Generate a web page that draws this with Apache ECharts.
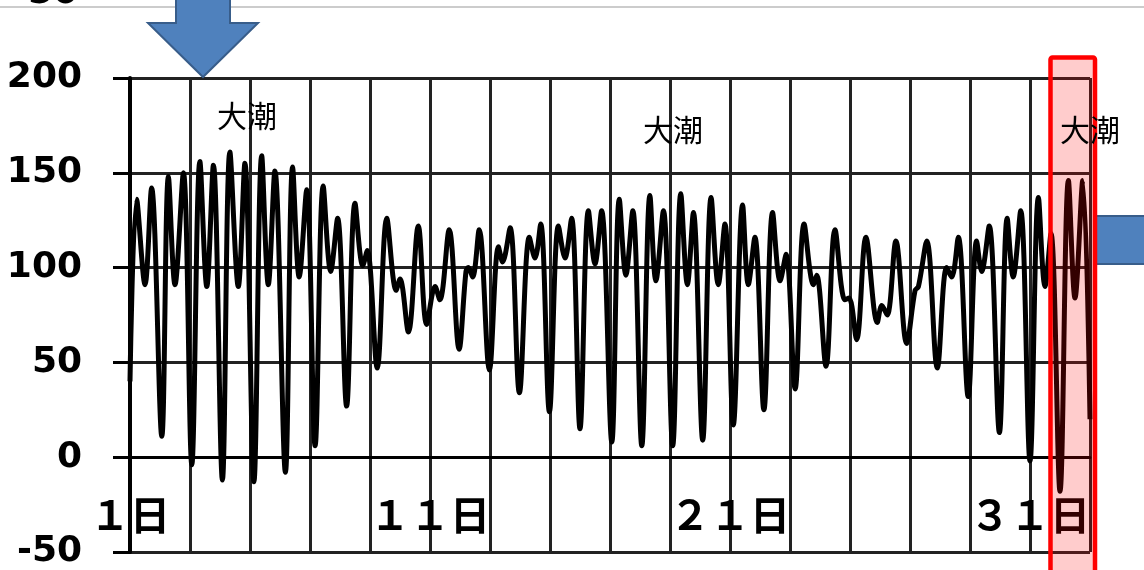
<!DOCTYPE html>
<html>
<head>
<meta charset="utf-8">
<script src="https://cdn.jsdelivr.net/npm/echarts@6/dist/echarts.min.js"></script>
<style>
  html, body { margin: 0; padding: 0; background: #fff; }
  #tide-chart { width: 1144px; height: 570px; }
</style>
</head>
<body>
<div id="tide-chart"></div>
<script>
// 潮位の山・谷（日付と潮位cm）を図から読み取った値
const days = [
  1.00, 1.22, 1.50, 1.72, 2.06, 2.28, 2.50, 2.78, 3.06, 3.33, 3.56, 3.78, 4.08, 4.33, 4.61, 4.83,
  5.13, 5.39, 5.61, 5.83, 6.18, 6.42, 6.64, 6.89, 7.17, 7.44, 7.69, 7.92, 8.22, 8.50, 8.76, 8.91,
  9.24, 9.56, 9.87, 10.00, 10.28, 10.61, 10.89, 11.17, 11.33, 11.64, 11.97, 12.20, 12.28, 12.42,
  12.64, 12.98, 13.28, 13.42, 13.67, 13.98, 14.31, 14.50, 14.69, 14.98, 15.28, 15.50, 15.72, 16.00,
  16.28, 16.50, 16.72, 17.06, 17.31, 17.53, 17.76, 18.06, 18.33, 18.53, 18.78, 19.09, 19.36, 19.58,
  19.78, 20.09, 20.37, 20.61, 20.83, 21.11, 21.42, 21.61, 21.83, 22.13, 22.42, 22.67, 22.87, 23.17,
  23.47, 23.78, 23.89, 24.20, 24.50, 24.83, 24.97, 25.22, 25.53, 25.91, 26.06, 26.24, 26.53, 26.89,
  27.17, 27.28, 27.56, 27.91, 28.22, 28.39, 28.61, 28.94, 29.22, 29.39, 29.64, 29.98, 30.24, 30.44,
  30.69, 31.00, 31.28, 31.50, 31.70, 32.00, 32.28, 32.50, 32.76, 33.00
]
const levels = [
  40, 136, 91, 142, 11, 148, 91, 150, -4, 156, 90, 154, -12, 161, 90, 155,
  -13, 159, 91, 151, -8, 153, 95, 141, 6, 143, 98, 126, 27, 134, 101, 109,
  47, 126, 88, 94, 66, 122, 70, 90, 83, 120, 57, 98, 100, 95,
  120, 46, 111, 103, 121, 34, 116, 105, 123, 24, 122, 105, 126, 15,
  130, 102, 130, 8, 136, 96, 130, 6, 138, 93, 130, 6, 139, 91,
  129, 9, 137, 91, 123, 17, 133, 91, 116, 25, 129, 93, 107, 36,
  123, 91, 96, 48, 120, 83, 84, 62, 116, 71, 80, 75, 114, 60,
  88, 90, 114, 47, 100, 95, 116, 32, 114, 98, 122, 13, 126, 95,
  130, -2, 137, 90, 118, -18, 146, 84, 146, 20
]
const labelDays = [1, 11, 21, 31]
const labelTexts = ['１日', '１１日', '２１日', '３１日']
const springTideText = '大潮'

const boxStyle = { fill: '#4f81bd', stroke: '#385d8a', lineWidth: 2 }

const chart = echarts.init(document.getElementById('tide-chart'))
chart.setOption({
  animation: false,
  grid: { left: 130, right: 54, top: 78, bottom: 12 },
  xAxis: {
    type: 'value',
    min: 0,
    max: 32,
    interval: 2,
    axisLine: { lineStyle: { color: '#000', width: 3 } },
    axisTick: { show: false },
    splitLine: { lineStyle: { color: '#222', width: 3 } },
    axisLabel: {
      inside: true,
      margin: 37,
      verticalAlign: 'middle',
      color: '#000',
      fontSize: 40,
      fontWeight: 'bold',
      fontFamily: 'Noto Sans CJK JP',
      formatter: v => {
        const i = labelDays.indexOf(v + 1)
        return i >= 0 ? labelTexts[i] : ''
      }
    }
  },
  yAxis: {
    type: 'value',
    min: -50,
    max: 200,
    interval: 50,
    axisLine: { show: true, lineStyle: { color: '#000', width: 4 } },
    axisTick: { show: true, length: 17, lineStyle: { color: '#000', width: 3 } },
    splitLine: { lineStyle: { color: '#222', width: 3 } },
    axisLabel: {
      margin: 48,
      color: '#000',
      fontSize: 36,
      fontWeight: 'bold',
      fontFamily: 'DejaVu Sans'
    }
  },
  series: [
    {
      type: 'line',
      data: days.map((d, i) => [d - 1, levels[i]]),
      showSymbol: false,
      smooth: 0.35,
      lineStyle: { color: '#000', width: 5 }
    }
  ],
  graphic: [
    { type: 'line', shape: { x1: 0, y1: 7, x2: 1144, y2: 7 }, style: { stroke: '#cccccc', lineWidth: 2 } },
    {
      type: 'text', left: 28, top: -24,
      style: { text: '50', fontSize: 36, fontWeight: 'bold', fontFamily: 'DejaVu Sans', fill: '#000' }
    },
    {
      type: 'polygon', z: 100,
      shape: { points: [[176, -5], [230, -5], [230, 23], [258, 23], [203, 77], [148, 23], [176, 23]] },
      style: boxStyle
    },
    { type: 'rect', z: 100, shape: { x: 1094, y: 216, width: 60, height: 48 }, style: boxStyle },
    {
      type: 'rect', z: 100,
      shape: { x: 1050.5, y: 57.5, width: 44.5, height: 530, r: 2 },
      style: { fill: 'rgba(255,0,0,0.2)', stroke: '#ff0000', lineWidth: 4.5 }
    },
    {
      type: 'text', z: 110, left: 217, top: 101,
      style: { text: springTideText, fontSize: 30, fontFamily: 'Noto Sans CJK JP', fill: '#000' }
    },
    {
      type: 'text', z: 110, left: 643, top: 115,
      style: { text: springTideText, fontSize: 30, fontFamily: 'Noto Sans CJK JP', fill: '#000' }
    },
    {
      type: 'text', z: 110, left: 1060, top: 115,
      style: { text: springTideText, fontSize: 30, fontFamily: 'Noto Sans CJK JP', fill: '#000' }
    }
  ]
})
</script>
</body>
</html>
